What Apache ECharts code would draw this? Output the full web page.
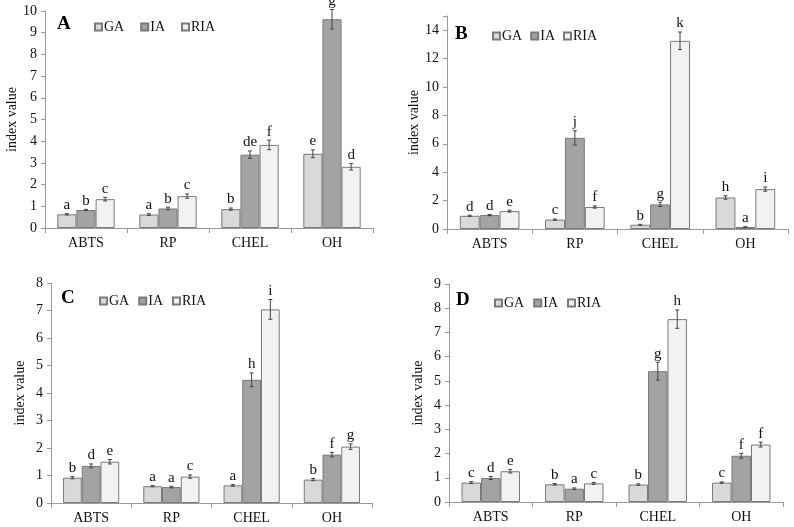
<!DOCTYPE html>
<html>
<head>
<meta charset="utf-8">
<script src="https://cdn.jsdelivr.net/npm/echarts@6/dist/echarts.min.js"></script>
<style>html,body{margin:0;padding:0;background:#fff}#c{width:794px;height:527px}</style>
</head>
<body>
<div id="c"></div>
<script>
var categories = ['ABTS', 'RP', 'CHEL', 'OH'];
var seriesNames = ['GA', 'IA', 'RIA'];
var panelLetters = ['A', 'B', 'C', 'D'];

// Panel A
var A_GA = [0.63, 0.62, 0.87, 3.42];
var A_IA = [0.83, 0.90, 3.38, 9.62];
var A_RIA = [1.33, 1.47, 3.83, 2.82];
var A_GA_err = [0.03, 0.04, 0.05, 0.18];
var A_IA_err = [0.03, 0.06, 0.17, 0.45];
var A_RIA_err = [0.08, 0.10, 0.22, 0.15];
var A_GA_sig = ['a', 'a', 'b', 'e'];
var A_IA_sig = ['b', 'b', 'de', 'g'];
var A_RIA_sig = ['c', 'c', 'f', 'd'];

// Panel B
var B_GA = [0.93, 0.66, 0.30, 2.22];
var B_IA = [0.98, 6.42, 1.73, 0.14];
var B_RIA = [1.26, 1.55, 13.25, 2.81];
var B_GA_err = [0.04, 0.04, 0.03, 0.12];
var B_IA_err = [0.04, 0.5, 0.15, 0.02];
var B_RIA_err = [0.07, 0.08, 0.62, 0.15];
var B_GA_sig = ['d', 'c', 'b', 'h'];
var B_IA_sig = ['d', 'j', 'g', 'a'];
var B_RIA_sig = ['e', 'f', 'k', 'i'];

// Panel C
var C_GA = [0.92, 0.61, 0.64, 0.85];
var C_IA = [1.35, 0.58, 4.48, 1.76];
var C_RIA = [1.50, 0.96, 7.04, 2.05];
var C_GA_err = [0.04, 0.02, 0.03, 0.04];
var C_IA_err = [0.07, 0.03, 0.25, 0.08];
var C_RIA_err = [0.08, 0.06, 0.36, 0.10];
var C_GA_sig = ['b', 'a', 'a', 'b'];
var C_IA_sig = ['d', 'a', 'h', 'f'];
var C_RIA_sig = ['e', 'c', 'i', 'g'];

// Panel D
var D_GA = [0.80, 0.73, 0.72, 0.80];
var D_IA = [0.99, 0.55, 5.40, 1.91];
var D_RIA = [1.27, 0.77, 7.55, 2.37];
var D_GA_err = [0.04, 0.03, 0.03, 0.03];
var D_IA_err = [0.06, 0.03, 0.37, 0.10];
var D_RIA_err = [0.07, 0.04, 0.38, 0.10];
var D_GA_sig = ['c', 'b', 'b', 'c'];
var D_IA_sig = ['d', 'a', 'g', 'f'];
var D_RIA_sig = ['e', 'c', 'h', 'f'];

var yMax = [10, 15, 8, 9];
var yInterval = [1, 2, 1, 1];

var panels = [
  {vals: [A_GA, A_IA, A_RIA], errs: [A_GA_err, A_IA_err, A_RIA_err], sigs: [A_GA_sig, A_IA_sig, A_RIA_sig]},
  {vals: [B_GA, B_IA, B_RIA], errs: [B_GA_err, B_IA_err, B_RIA_err], sigs: [B_GA_sig, B_IA_sig, B_RIA_sig]},
  {vals: [C_GA, C_IA, C_RIA], errs: [C_GA_err, C_IA_err, C_RIA_err], sigs: [C_GA_sig, C_IA_sig, C_RIA_sig]},
  {vals: [D_GA, D_IA, D_RIA], errs: [D_GA_err, D_IA_err, D_RIA_err], sigs: [D_GA_sig, D_IA_sig, D_RIA_sig]}
];

var FONT = 'Liberation Serif';
var colors = ['#d9d9d9', '#a3a3a3', '#f2f2f2'];
var CAT_GAP = 0.30;

var grids = [
  {left: 45, top: 11, width: 328, height: 217},
  {left: 447, top: 16, width: 341, height: 213},
  {left: 51, top: 283, width: 321, height: 220},
  {left: 449, top: 284, width: 334, height: 218}
];
var letterPos = [[57, 15], [455, 25], [61, 289], [456, 291]];
var legendPos = [[89, 15], [487, 24], [94, 289], [489, 291]];
var legendGap = [16, 8, 9, 9];
var nameGaps = [24, 24, 24, 24];

var option = {
  animation: false,
  textStyle: {fontFamily: FONT},
  grid: grids,
  xAxis: [], yAxis: [], series: [], legend: [], graphic: []
};

panels.forEach(function (p, gi) {
  option.xAxis.push({
    type: 'category', gridIndex: gi, data: categories,
    axisLine: {lineStyle: {color: '#9a9a9a', width: 1}},
    axisTick: {show: true, length: 5, lineStyle: {color: '#9a9a9a'}},
    axisLabel: {color: '#111', fontSize: 14, fontFamily: FONT, margin: 8, interval: 0}
  });
  option.yAxis.push({
    type: 'value', gridIndex: gi, min: 0, max: yMax[gi], interval: yInterval[gi],
    name: 'index value', nameLocation: 'middle', nameGap: nameGaps[gi],
    nameTextStyle: {color: '#111', fontSize: 14, fontFamily: FONT},
    axisLine: {show: true, lineStyle: {color: '#9a9a9a', width: 1}},
    axisTick: {show: true, length: 4, lineStyle: {color: '#9a9a9a'}},
    splitLine: {show: false},
    axisLabel: {color: '#111', fontSize: 14, fontFamily: FONT, margin: 8,
      formatter: function (v) { return (v % yInterval[gi] === 0) ? String(v) : ''; }}
  });
  seriesNames.forEach(function (nm, si) {
    option.series.push({
      type: 'bar', name: nm, xAxisIndex: gi, yAxisIndex: gi,
      data: p.vals[si], barGap: '0%', barCategoryGap: (CAT_GAP * 100) + '%',
      itemStyle: {color: colors[si], borderColor: '#7a7a7a', borderWidth: 1},
      emphasis: {disabled: true}
    });
  });
  var cdata = [];
  for (var si = 0; si < 3; si++) {
    for (var ci = 0; ci < categories.length; ci++) {
      cdata.push([ci, si, p.vals[si][ci], p.errs[si][ci], p.sigs[si][ci]]);
    }
  }
  option.series.push({
    type: 'custom', xAxisIndex: gi, yAxisIndex: gi, z: 10,
    data: cdata,
    encode: {x: 0, y: 2},
    renderItem: function (params, api) {
      var ci = api.value(0), si = api.value(1), v = api.value(2), e = api.value(3);
      var sig = cdata[params.dataIndex][4];
      var catW = api.size([1, 0])[0];
      var bw = catW * (1 - CAT_GAP) / 3;
      var c = api.coord([ci, v]);
      var x = c[0] + (si - 1) * bw;
      var top = api.coord([ci, v + e])[1];
      var bot = api.coord([ci, Math.max(v - e, 0)])[1];
      var cap = 2;
      var st = {stroke: '#444', lineWidth: 1};
      return {type: 'group', children: [
        {type: 'line', shape: {x1: x, y1: top, x2: x, y2: bot}, style: st},
        {type: 'line', shape: {x1: x - cap, y1: top, x2: x + cap, y2: top}, style: st},
        {type: 'line', shape: {x1: x - cap, y1: bot, x2: x + cap, y2: bot}, style: st},
        {type: 'text', x: x, y: top - 1, style: {text: sig, fill: '#111', font: '15px "Liberation Serif", serif', align: 'center', verticalAlign: 'bottom'}}
      ]};
    }
  });
  option.legend.push({
    data: seriesNames, left: legendPos[gi][0], top: legendPos[gi][1],
    icon: 'rect', itemWidth: 7, itemHeight: 7, itemGap: legendGap[gi],
    selectedMode: false,
    textStyle: {fontSize: 14, fontFamily: FONT, color: '#111', padding: [0, 0, 0, -3]}
  });
  option.graphic.push({
    type: 'text', left: letterPos[gi][0], top: letterPos[gi][1],
    style: {text: panelLetters[gi], font: 'bold 19px "Liberation Serif", serif', fill: '#000'}
  });
});

var chart = echarts.init(document.getElementById('c'), null, {renderer: 'canvas'});
chart.setOption(option);
</script>
</body>
</html>
